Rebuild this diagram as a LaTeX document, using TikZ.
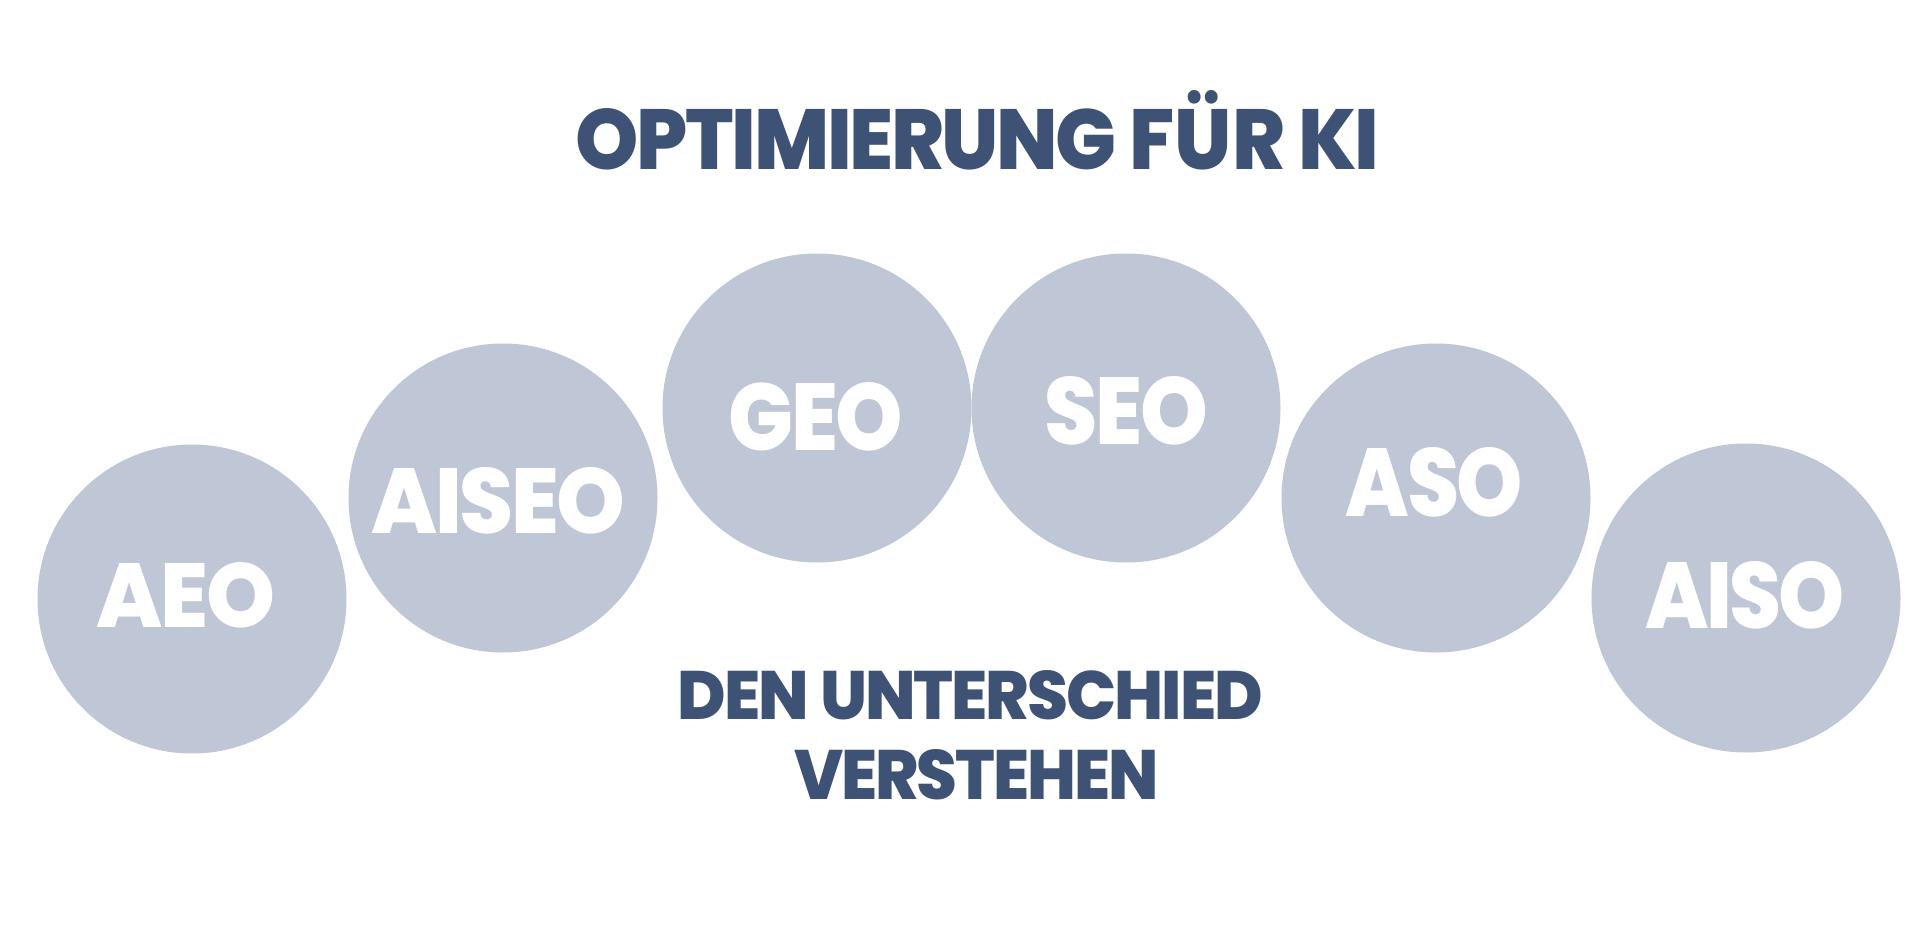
\documentclass[tikz,border=0pt]{standalone}
\usepackage{fontspec}
\setmainfont{Poppins}[BoldFont={Poppins ExtraBold}]
\usepackage{graphicx}
\definecolor{discfill}{HTML}{BFC6D5}
\definecolor{titleblue}{HTML}{3E5276}
\newcommand{\fitto}[3]{\resizebox{#1pt}{#2pt}{\bfseries\addfontfeature{LetterSpace=-3}#3}}
\tikzset{
  disc/.style={circle, fill=discfill, draw=none, minimum size=309pt, inner sep=0pt},
  disclabel/.style={text=white, inner sep=0pt, anchor=center},
  headline/.style={text=titleblue, inner sep=0pt, anchor=center}
}
\begin{document}
\begin{tikzpicture}[x=1pt,y=-1pt]
\useasboundingbox[fill=white] (0,0) rectangle (1920,944);
% discs
\node[disc] (aeo)   at (192,599)  {};
\node[disc] (aiseo) at (503,498)  {};
\node[disc] (geo)   at (817,408)  {};
\node[disc] (seo)   at (1126,408) {};
\node[disc] (aso)   at (1436,498) {};
\node[disc] (aiso)  at (1746,598) {};
% labels
\node[disclabel] (laeo)   at (186,595.5)   {\fitto{178}{65}{AEO}};
\node[disclabel] (laiseo) at (498.5,501)   {\fitto{253}{66}{AISEO}};
\node[disclabel] (lgeo)   at (816,416.5)   {\fitto{174}{68}{GEO}};
\node[disclabel] (lseo)   at (1126.5,411)  {\fitto{163}{68}{SEO}};
\node[disclabel] (laso)   at (1434.5,482.5){\fitto{177}{69}{ASO}};
\node[disclabel] (laiso)  at (1745,595.5)  {\fitto{200}{67}{AISO}};
% title and subtitle
\node[headline] (title) at (977.5,139.5) {\fitto{803}{61}{OPTIMIERUNG F\smash{Ü}R KI}};
\node[headline] (sub1)  at (970.5,695.5) {\fitto{585}{49}{DEN UNTERSCHIED}};
\node[headline] (sub2)  at (976.5,775)   {\fitto{365}{50}{VERSTEHEN}};
\end{tikzpicture}
\end{document}
